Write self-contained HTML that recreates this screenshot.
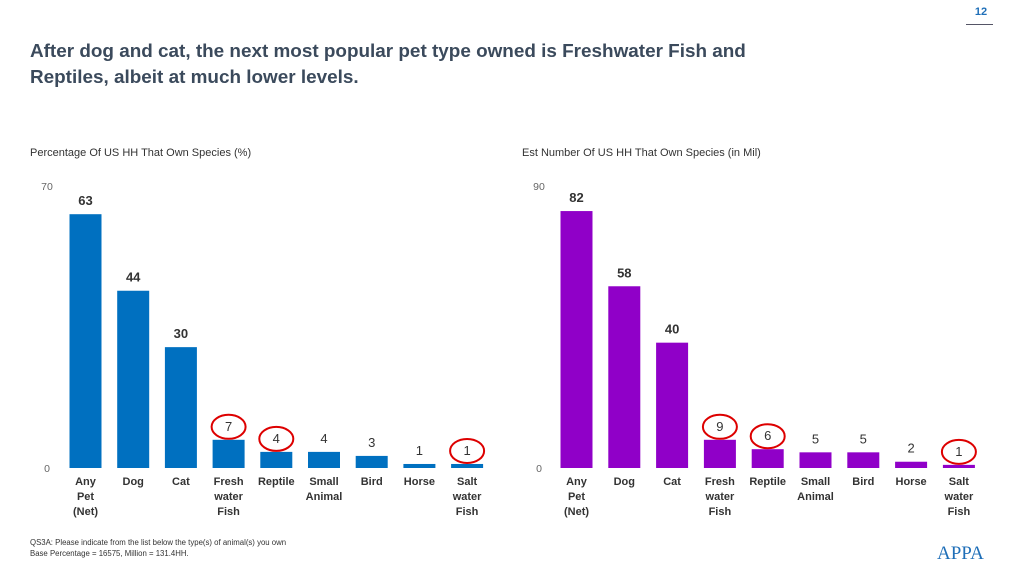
<!DOCTYPE html>
<html><head><meta charset="utf-8"><style>
body{margin:0;width:1024px;height:576px;background:#fff;font-family:"Liberation Sans",sans-serif;overflow:hidden;position:relative}
.t{position:absolute}
</style></head><body>
<div class="t" style="left:968px;top:6px;width:26px;text-align:center;font-size:11px;font-weight:bold;color:#1f6fb8">12</div>
<div class="t" style="left:966px;top:24px;width:27px;height:1px;background:#556"></div>
<div class="t" style="left:30px;top:39px;width:780px;font-size:18.9px;line-height:26px;font-weight:bold;color:#3b4a5c">After dog and cat, the next most popular pet type owned is Freshwater Fish and<br>Reptiles, albeit at much lower levels.</div>
<svg class="t" style="left:0;top:0" width="1024" height="576">
<g id="g"></g>
<text x="30" y="545" font-size="7.8" fill="#333">QS3A: Please indicate from the list below the type(s) of animal(s) you own</text>
<text x="30" y="556" font-size="7.8" fill="#333">Base Percentage = 16575, Million = 131.4HH.</text>
<text x="937" y="559" font-size="19" fill="#1f6fb8" font-family="Liberation Serif,serif">APPA</text>
</svg>
<script>
const categories=["Any|Pet|(Net)","Dog","Cat","Fresh|water|Fish","Reptile","Small|Animal","Bird","Horse","Salt|water|Fish"];
const pctValues=[63,44,30,7,4,4,3,1,1];
const milValues=[82,58,40,9,6,5,5,2,1];
const circled=[3,4,8];
const g=document.getElementById('g');
const NS='http://www.w3.org/2000/svg';
function mk(t,a){const e=document.createElementNS(NS,t);for(const k in a)e.setAttribute(k,a[k]);g.appendChild(e);return e;}
function chart(vals,max,x0,step,color,title,tx,pre){
  const base=468,h=282,y=v=>base-v*h/max,x=i=>x0+i*step;
  let e=mk('text',{x:tx,y:156,'font-size':11,fill:'#333'});e.textContent=title;
  
  [0,max].forEach(v=>{const t=mk('text',{x:tx+17,y:y(v)+4,'font-size':10.5,fill:'#666','text-anchor':'middle'});t.textContent=v;
    });
  vals.forEach((v,i)=>{
    const r=mk('rect',{x:x(i)-16,y:y(v),width:32,height:base-y(v),fill:color});
    
    const big=v>=10;
    const l=mk('text',{x:x(i),y:y(v)-9,'font-size':13,'font-weight':big?'bold':'normal',fill:'#333','text-anchor':'middle'});
    l.textContent=v;
    if(circled.includes(i)){const c=mk('ellipse',{cx:x(i),cy:y(v)-13,rx:17,ry:12,fill:'none',stroke:'#d00',"stroke-width":2});
      }
    categories[i].split('|').forEach((s,j)=>{const c=mk('text',{x:x(i),y:485+j*15,'font-size':11,'font-weight':'bold',fill:'#333','text-anchor':'middle'});
      c.textContent=s;});
  });
}
chart(pctValues,70,85.5,47.7,'#0070c0','Percentage Of US HH That Own Species (%)',30,'pct');
chart(milValues,90,576.5,47.8,'#9000c8','Est Number Of US HH That Own Species (in Mil)',522,'mil');
</script>
</body></html>
